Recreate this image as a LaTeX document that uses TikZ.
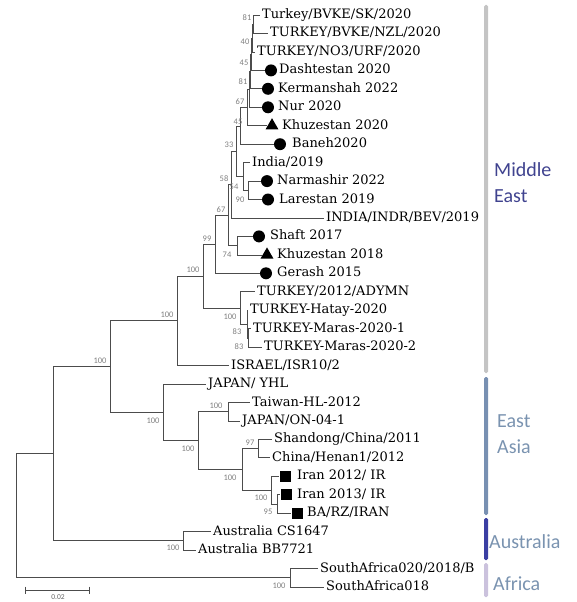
\documentclass[tikz,border=0pt]{standalone}
\usepackage{fontspec}
\setmainfont{DejaVu Serif}
\newfontfamily\regionfont{Carlito}
\usetikzlibrary{shapes.geometric}

\definecolor{mecol}{HTML}{C4C4C4}
\definecolor{eacol}{HTML}{7890B2}
\definecolor{aucol}{HTML}{3B3FA3}
\definecolor{afcol}{HTML}{CBC2DD}
\definecolor{metext}{HTML}{40438F}
\definecolor{regtext}{HTML}{7A93B0}

\tikzset{
  branch/.style={black!70, line width=0.75pt},
  leaf/.style={anchor=west, inner sep=2pt, text height=9.5pt, text depth=2.5pt, font=\fontsize{13}{15}\selectfont},
  boot/.style={inner sep=0pt, text=black!50, font=\regionfont\fontsize{8.5}{9}\selectfont},
  dot/.style={circle, fill=black, minimum size=12pt, inner sep=0pt},
  tri/.style={regular polygon, regular polygon sides=3, fill=black, minimum size=15pt, inner sep=0pt},
  sq/.style={rectangle, fill=black, minimum size=11pt, inner sep=0pt},
  region/.style={anchor=west, align=left, inner sep=0pt, font=\regionfont\fontsize{20}{26}\selectfont}
}

\begin{document}
\begin{tikzpicture}[x=1pt, y=-1pt]
\useasboundingbox (0,0) rectangle (576,602);

% leaves
\node[leaf] (sk) at (260,15) {Turkey/BVKE/SK/2020};
\node[leaf] (nzl) at (268,33.5) {TURKEY/BVKE/NZL/2020};
\node[leaf] (urf) at (255,51.9) {TURKEY/NO3/URF/2020};
\node[dot] (dashm) at (271,70.4) {}; \node[leaf] (dash) at (277,70.4) {Dashtestan 2020};
\node[dot] (kerm) at (268,88.8) {}; \node[leaf] (ker) at (276,88.8) {Kermanshah 2022};
\node[dot] (nurm) at (268,107.3) {}; \node[leaf] (nur) at (276,107.3) {Nur 2020};
\node[tri] (khzm) at (272,125.7) {}; \node[leaf] (khz) at (280,125.7) {Khuzestan 2020};
\node[dot] (banm) at (280,144.2) {}; \node[leaf] (ban) at (290,144.2) {Baneh2020};
\node[leaf] (ind) at (250,162.6) {India/2019};
\node[dot] (narm) at (267,181.1) {}; \node[leaf] (nar) at (275,181.1) {Narmashir 2022};
\node[dot] (larm) at (268,199.5) {}; \node[leaf] (lar) at (277,199.5) {Larestan 2019};
\node[leaf] (indr) at (324,218) {INDIA/INDR/BEV/2019};
\node[dot] (shfm) at (259,236.4) {}; \node[leaf] (shf) at (268,236.4) {Shaft 2017};
\node[tri] (kh18m) at (267,254.9) {}; \node[leaf] (kh18) at (275,254.9) {Khuzestan 2018};
\node[dot] (germ) at (266,273.3) {}; \node[leaf] (ger) at (275,273.3) {Gerash 2015};
\node[leaf] (ady) at (255,291.8) {TURKEY/2012/ADYMN};
\node[leaf] (hat) at (248,310.2) {TURKEY-Hatay-2020};
\node[leaf] (mar1) at (251,328.7) {TURKEY-Maras-2020-1};
\node[leaf] (mar2) at (262,347.1) {TURKEY-Maras-2020-2};
\node[leaf] (isr) at (229,365.6) {ISRAEL/ISR10/2};
\node[leaf] (yhl) at (206,384) {JAPAN/ YHL};
\node[leaf] (tw) at (250,402.5) {Taiwan-HL-2012};
\node[leaf] (on) at (240,420.9) {JAPAN/ON-04-1};
\node[leaf] (sd) at (272,439.4) {Shandong/China/2011};
\node[leaf] (hn) at (270,457.8) {China/Henan1/2012};
\node[sq] (ir12m) at (285,476.3) {}; \node[leaf] (ir12) at (295,476.3) {Iran 2012/ IR};
\node[sq] (ir13m) at (286,494.7) {}; \node[leaf] (ir13) at (295,494.7) {Iran 2013/ IR};
\node[sq] (barzm) at (297,513.2) {}; \node[leaf] (barz) at (305,513.2) {BA/RZ/IRAN};
\node[leaf] (aucs) at (211,531.6) {Australia CS1647};
\node[leaf] (aubb) at (196,550.1) {Australia BB7721};
\node[leaf] (sa1) at (318,568.5) {SouthAfrica020/2018/B};
\node[leaf] (sa2) at (324,587) {SouthAfrica018};

% inner nodes
\coordinate (n81a) at (253,24.2);
\coordinate (n40) at (252,38.1);
\coordinate (n45a) at (251,54.2);
\coordinate (n81b) at (250,71.5);
\coordinate (n67a) at (249,89.4);
\coordinate (n45b) at (247,107.6);
\coordinate (n33) at (240,125.9);
\coordinate (n90) at (248,190.3);
\coordinate (nE) at (243,176.4);
\coordinate (n54) at (236,151.2);
\coordinate (n58) at (231,184.6);
\coordinate (n74) at (237,245.6);
\coordinate (n67c) at (228,215.1);
\coordinate (n99) at (215,244.2);
\coordinate (n83b) at (248,337.9);
\coordinate (n83a) at (247,324.1);
\coordinate (n100t) at (240,307.9);
\coordinate (n100c) at (203,276.1);
\coordinate (nME) at (177,320.8);
\coordinate (ntw) at (228,411.7);
\coordinate (n97) at (258,448.6);
\coordinate (n95) at (277,503.9);
\coordinate (niran) at (271,490.1);
\coordinate (n100d) at (242,469.4);
\coordinate (n100x) at (198,440.6);
\coordinate (nEA) at (163,412.3);
\coordinate (nME2) at (110,366.6);
\coordinate (naus) at (183,540.8);
\coordinate (n53) at (53,453.7);
\coordinate (nsa) at (290,577.7);
\coordinate (root) at (16,515.7);

% branches
\draw[branch] (n81a) |- (sk.west);
\draw[branch] (n81a) |- (nzl.west);
\draw[branch] (n40) |- (n81a);
\draw[branch] (n40) |- (urf.west);
\draw[branch] (n45a) |- (n40);
\draw[branch] (n45a) |- (dashm.west);
\draw[branch] (n81b) |- (n45a);
\draw[branch] (n81b) |- (kerm.west);
\draw[branch] (n67a) |- (n81b);
\draw[branch] (n67a) |- (nurm.west);
\draw[branch] (n45b) |- (n67a);
\draw[branch] (n45b) |- (khzm.west);
\draw[branch] (n33) |- (n45b);
\draw[branch] (n33) |- (banm.west);
\draw[branch] (n90) |- (narm.west);
\draw[branch] (n90) |- (larm.west);
\draw[branch] (nE) |- (ind.west);
\draw[branch] (nE) |- (n90);
\draw[branch] (n54) |- (n33);
\draw[branch] (n54) |- (nE);
\draw[branch] (n58) |- (n54);
\draw[branch] (n58) |- (indr.west);
\draw[branch] (n74) |- (shfm.west);
\draw[branch] (n74) |- (kh18m.west);
\draw[branch] (n67c) |- (n58);
\draw[branch] (n67c) |- (n74);
\draw[branch] (n99) |- (n67c);
\draw[branch] (n99) |- (germ.west);
\draw[branch] (n83b) |- (mar1.west);
\draw[branch] (n83b) |- (mar2.west);
\draw[branch] (n83a) |- (hat.west);
\draw[branch] (n83a) |- (n83b);
\draw[branch] (n100t) |- (ady.west);
\draw[branch] (n100t) |- (n83a);
\draw[branch] (n100c) |- (n99);
\draw[branch] (n100c) |- (n100t);
\draw[branch] (nME) |- (n100c);
\draw[branch] (nME) |- (isr.west);
\draw[branch] (ntw) |- (tw.west);
\draw[branch] (ntw) |- (on.west);
\draw[branch] (n97) |- (sd.west);
\draw[branch] (n97) |- (hn.west);
\draw[branch] (n95) |- (ir13m.west);
\draw[branch] (n95) |- (barzm.west);
\draw[branch] (niran) |- (ir12m.west);
\draw[branch] (niran) |- (n95);
\draw[branch] (n100d) |- (n97);
\draw[branch] (n100d) |- (niran);
\draw[branch] (n100x) |- (ntw);
\draw[branch] (n100x) |- (n100d);
\draw[branch] (nEA) |- (yhl.west);
\draw[branch] (nEA) |- (n100x);
\draw[branch] (nME2) |- (nME);
\draw[branch] (nME2) |- (nEA);
\draw[branch] (naus) |- (aucs.west);
\draw[branch] (naus) |- (aubb.west);
\draw[branch] (n53) |- (nME2);
\draw[branch] (n53) |- (naus);
\draw[branch] (nsa) |- (sa1.west);
\draw[branch] (nsa) |- (sa2.west);
\draw[branch] (root) |- (n53);
\draw[branch] (root) |- (nsa);

% bootstrap values
\node[boot] (b1) at (247,18) {81};
\node[boot] (b2) at (245,42) {40};
\node[boot] (b3) at (244,63) {45};
\node[boot] (b4) at (243,82) {81};
\node[boot] (b5) at (240,102) {67};
\node[boot] (b6) at (238,122) {45};
\node[boot] (b7) at (229,145) {33};
\node[boot] (b8) at (224,179) {58};
\node[boot] (b9) at (234,187) {54};
\node[boot] (b10) at (240,200) {90};
\node[boot] (b11) at (221,210) {67};
\node[boot] (b12) at (207,239) {99};
\node[boot] (b13) at (227,255) {74};
\node[boot] (b14) at (193,270) {100};
\node[boot] (b15) at (167,315) {100};
\node[boot] (b16) at (230,317) {100};
\node[boot] (b17) at (237,332) {83};
\node[boot] (b18) at (239,347) {83};
\node[boot] (b19) at (100,361) {100};
\node[boot] (b20) at (216,406) {100};
\node[boot] (b21) at (153,421) {100};
\node[boot] (b22) at (250,443) {97};
\node[boot] (b23) at (188,449) {100};
\node[boot] (b24) at (230,478) {100};
\node[boot] (b25) at (261,498) {100};
\node[boot] (b26) at (268,512) {95};
\node[boot] (b27) at (173,548) {100};
\node[boot] (b28) at (279,586) {100};

% regions
\fill[mecol, rounded corners=1.5pt] (484,5) rectangle (488,373);
\fill[eacol, rounded corners=1.5pt] (484,377) rectangle (488,515);
\fill[aucol, rounded corners=1.5pt] (484,518) rectangle (488,560);
\fill[afcol, rounded corners=1.5pt] (484,563) rectangle (488,597);
\node[region, text=metext] (me) at (494,183) {Middle\\East};
\node[region, text=regtext] (ea) at (497,434) {East\\Asia};
\node[region, text=regtext] (au) at (489,542) {Australia};
\node[region, text=regtext] (af) at (493,584) {Africa};

% scale
\coordinate (sbl) at (25,590);
\coordinate (sbr) at (90,590);
\draw[branch, |-|] (sbl) -- (sbr);
\node[boot, text=black!60, font=\regionfont\fontsize{7.5}{8}\selectfont] (sbt) at (58,597.5) {0.02};
\end{tikzpicture}
\end{document}
